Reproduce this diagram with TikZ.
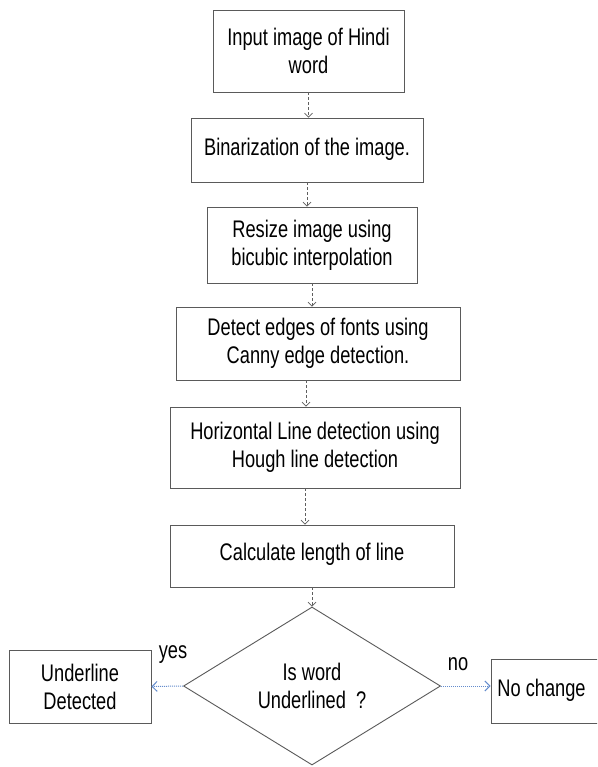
\documentclass[tikz,border=0pt]{standalone}
\usepackage{fontspec}
\setmainfont{Liberation Sans}[FakeStretch=0.76]
\usetikzlibrary{shapes.geometric,arrows.meta}
\definecolor{boxline}{RGB}{90,90,90}
\definecolor{flowline}{RGB}{95,95,95}
\definecolor{sideline}{RGB}{100,140,205}
\tikzset{
  x=1pt,y=-1pt,
  procbox/.style={draw=boxline,line width=0.9pt,fill=white,inner sep=0pt,
    align=center,font=\fontsize{24}{28}\selectfont},
  flowarrow/.style={draw=flowline,line width=0.7pt,densely dashed,
    -{Straight Barb[length=4pt,width=8pt]}},
  sidearrow/.style={draw=sideline,line width=1pt,densely dotted,
    -{Straight Barb[length=5pt,width=10pt]}},
  edgetext/.style={font=\fontsize{24}{28}\selectfont,inner sep=0pt}
}
\begin{document}
\begin{tikzpicture}
\useasboundingbox (0,0) rectangle (597,767);
\clip (0,0) rectangle (597,767);
\fill[white] (0,0) rectangle (597,767);

\node[procbox,minimum width=191pt,minimum height=82pt] (b1) at (308.5,51)
  {Input image of Hindi\\word};
\node[procbox,minimum width=232pt,minimum height=64pt] (b2) at (307,150)
  {\raisebox{6pt}{Binarization of the image.}};
\node[procbox,minimum width=210pt,minimum height=76pt] (b3) at (312,245)
  {Resize image using\\bicubic interpolation};
\node[procbox,minimum width=284pt,minimum height=73pt] (b4) at (318,343.5)
  {Detect edges of fonts using\\Canny edge detection.};
\node[procbox,minimum width=290pt,minimum height=81pt] (b5) at (315,447.5)
  {Horizontal Line detection using\\Hough line detection};
\node[procbox,minimum width=284pt,minimum height=62pt] (b6) at (312,556)
  {\raisebox{8pt}{Calculate length of line}};
\node[procbox,diamond,minimum width=257pt,minimum height=158pt] (d) at (312,686)
  {Is word\\Underlined\ \ ?};
\node[procbox,minimum width=142pt,minimum height=73pt] (L) at (80,686.5)
  {Underline\\Detected};
\node[procbox,minimum width=109pt,minimum height=64pt] (R) at (545.5,691)
  {\raisebox{7pt}{\hspace*{-8pt}No change}};

\draw[flowarrow] (b1.south) -- (b1.south |- b2.north);
\draw[flowarrow] (b2.south) -- (b2.south |- b3.north);
\draw[flowarrow] (b3.south) -- (b3.south |- b4.north);
\draw[flowarrow] ([xshift=-12pt]b4.south) -- ([xshift=-12pt]b4.south |- b5.north);
\draw[flowarrow] ([xshift=-10pt]b5.south) -- ([xshift=-10pt]b5.south |- b6.north);
\draw[flowarrow] (b6.south) -- (d.north);

\draw[sidearrow] (d.west) -- (L.east);
\draw[sidearrow] (d.east) -- (d.east -| R.west);

\node[edgetext] (yes) at (173,655) {yes};
\node[edgetext] (no) at (458,664) {no};
\end{tikzpicture}
\end{document}
